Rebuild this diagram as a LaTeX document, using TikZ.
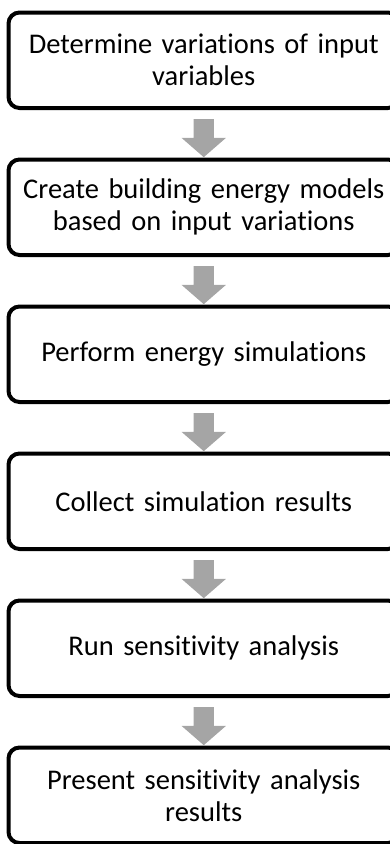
\documentclass[tikz,border=0pt]{standalone}
\usepackage{fontspec}
\setmainfont[Ligatures={NoCommon}]{Carlito}
\usetikzlibrary{shapes.arrows}
\definecolor{arrowgray}{HTML}{A5A5A5}
\begin{document}
\begin{tikzpicture}[x=1pt,y=-1pt,
  stepbox/.style={draw=black, line width=4pt, rounded corners=11pt,
    minimum width=390.5pt, minimum height=95.5pt, text width=384pt,
    align=center, inner sep=0pt,
    font=\fontsize{28.5}{32}\selectfont},
  flowarrow/.style={single arrow, shape border rotate=270, fill=arrowgray,
    draw=none, inner sep=10pt, minimum height=38pt,
    single arrow head extend=12pt, single arrow tip angle=98}]
\useasboundingbox (0,0) rectangle (390,844);
\clip (0,0) rectangle (390,844);
\node[stepbox] (b1) at (203.75,60.25) {Determine variations of input\\variables};
\node[stepbox] (b2) at (203.75,207.25) {Create building energy models\\based on input variations};
\node[stepbox] (b3) at (203.75,354.25) {Perform energy simulations};
\node[stepbox] (b4) at (203.75,501.25) {Collect simulation results};
\node[stepbox] (b5) at (203.75,648.25) {Run sensitivity analysis};
\node[stepbox] (b6) at (203.75,795.25) {Present sensitivity analysis\\results};
\path (b1.south) -- (b2.north) node[midway, flowarrow] (a1) {};
\path (b2.south) -- (b3.north) node[midway, flowarrow] (a2) {};
\path (b3.south) -- (b4.north) node[midway, flowarrow] (a3) {};
\path (b4.south) -- (b5.north) node[midway, flowarrow] (a4) {};
\path (b5.south) -- (b6.north) node[midway, flowarrow] (a5) {};
\end{tikzpicture}
\end{document}
